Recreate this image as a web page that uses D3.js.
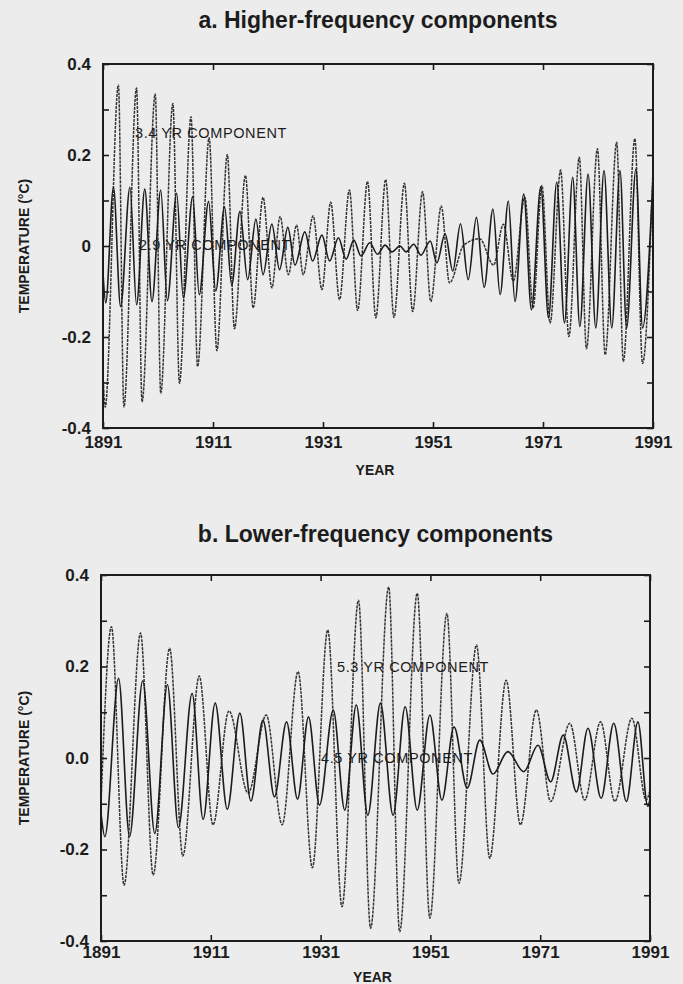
<!DOCTYPE html>
<html>
<head>
<meta charset="utf-8">
<script src="https://cdn.jsdelivr.net/npm/d3@7"></script>
<style>
body { margin: 0; background: #ececec; }
text { font-family: "Liberation Sans", Arial, sans-serif; fill: #1c1c1c; }
.solid { fill: none; stroke: #1c1c1c; stroke-width: 1.6px; }
.dotted { fill: none; stroke: #333; stroke-width: 1.5px; stroke-dasharray: 3 1; }
</style>
</head>
<body>
<div id="chart"></div>
<script>
var yearTicks = [1891, 1911, 1931, 1951, 1971, 1991];
var tempMajor = [-0.4, -0.2, 0, 0.2, 0.4];
var tempMinor = [-0.4, -0.3, -0.2, -0.1, 0, 0.1, 0.2, 0.3, 0.4];
var tempLabelsA = ["-0.4", "-0.2", "0", "0.2", "0.4"];
var tempLabelsB = ["-0.4", "-0.2", "0.0", "0.2", "0.4"];

// peaks and troughs
var years34 = [1891.0, 1891.4, 1893.8, 1894.8, 1897.1, 1898.1, 1900.5, 1901.5, 1903.7, 1904.9,
  1907.0, 1908.2, 1910.3, 1911.7, 1913.6, 1914.9, 1916.9, 1918.3, 1920.1, 1921.7,
  1923.2, 1924.7, 1926.2, 1927.4, 1929.2, 1930.8, 1932.4, 1934.0, 1935.8, 1937.3,
  1939.1, 1940.6, 1942.4, 1943.9, 1945.8, 1947.3, 1949.1, 1950.6, 1952.5, 1954.0,
  1956.6, 1959.5, 1962.0, 1963.8, 1965.6, 1967.7, 1969.2, 1970.8, 1972.3, 1974.2,
  1975.7, 1977.6, 1978.9, 1980.9, 1982.3, 1984.4, 1985.6, 1987.7, 1989.1, 1991.0];
var temp34 = [-0.28, -0.354, 0.354, -0.354, 0.347, -0.343, 0.334, -0.324, 0.313, -0.302,
  0.284, -0.265, 0.238, -0.230, 0.201, -0.182, 0.155, -0.136, 0.107, -0.092,
  0.065, -0.063, 0.046, -0.063, 0.066, -0.096, 0.096, -0.118, 0.123, -0.142,
  0.142, -0.158, 0.146, -0.157, 0.138, -0.144, 0.119, -0.122, 0.088, -0.081,
  0.002, 0.016, -0.042, 0.048, -0.077, 0.107, -0.136, 0.133, -0.169, 0.167,
  -0.199, 0.195, -0.226, 0.214, -0.239, 0.228, -0.254, 0.236, -0.258, 0.17];

var years29 = [1891.0, 1891.5, 1892.9, 1894.2, 1895.9, 1897.1, 1898.6, 1899.9, 1901.5, 1902.7,
  1904.4, 1905.6, 1907.3, 1908.5, 1910.2, 1911.5, 1913.1, 1914.4, 1915.9, 1917.3,
  1918.8, 1920.1, 1921.7, 1923.1, 1924.6, 1925.9, 1927.7, 1929.1, 1930.8, 1932.2,
  1933.8, 1935.2, 1936.6, 1937.9, 1939.5, 1940.9, 1942.3, 1943.5, 1945.0, 1946.1,
  1947.5, 1948.8, 1950.5, 1951.7, 1953.2, 1954.6, 1956.0, 1957.4, 1958.9, 1960.3,
  1961.9, 1963.2, 1964.7, 1965.9, 1967.5, 1968.9, 1970.6, 1972.0, 1973.5, 1974.9,
  1976.4, 1977.7, 1979.2, 1980.6, 1982.1, 1983.5, 1985.0, 1986.2, 1987.9, 1989.1, 1991.0];
var temp29 = [-0.06, -0.125, 0.129, -0.133, 0.129, -0.129, 0.125, -0.122, 0.123, -0.120,
  0.116, -0.114, 0.108, -0.107, 0.098, -0.099, 0.086, -0.086, 0.076, -0.074,
  0.059, -0.063, 0.048, -0.052, 0.041, -0.042, 0.031, -0.033, 0.024, -0.033,
  0.018, -0.029, 0.013, -0.022, 0.007, -0.018, 0.002, -0.013, 0.0, -0.013,
  0.004, -0.020, 0.011, -0.037, 0.027, -0.055, 0.049, -0.074, 0.063, -0.091,
  0.081, -0.107, 0.099, -0.122, 0.114, -0.140, 0.130, -0.158, 0.140, -0.169,
  0.151, -0.177, 0.158, -0.180, 0.166, -0.180, 0.166, -0.180, 0.169, -0.180, 0.15];

var years53 = [1891.0, 1892.9, 1895.2, 1898.2, 1900.5, 1903.5, 1905.9, 1908.9, 1911.4, 1914.3,
  1917.8, 1921.1, 1924.0, 1926.9, 1929.5, 1932.3, 1934.9, 1937.9, 1940.1, 1943.4,
  1945.4, 1948.6, 1950.9, 1954.0, 1956.2, 1959.4, 1961.8, 1964.8, 1967.4, 1970.3,
  1972.9, 1976.4, 1979.1, 1982.0, 1984.6, 1987.7, 1990.3, 1991.0];
var temp53 = [-0.10, 0.287, -0.278, 0.273, -0.256, 0.240, -0.214, 0.179, -0.146, 0.103,
  -0.077, 0.094, -0.146, 0.189, -0.240, 0.280, -0.325, 0.345, -0.372, 0.374,
  -0.380, 0.360, -0.350, 0.316, -0.274, 0.247, -0.219, 0.170, -0.146, 0.105,
  -0.095, 0.076, -0.092, 0.079, -0.095, 0.087, -0.092, -0.07];

var years45 = [1891.0, 1891.7, 1894.2, 1896.2, 1898.6, 1900.8, 1903.1, 1905.1, 1907.6, 1909.6,
  1911.8, 1914.0, 1916.3, 1918.3, 1920.5, 1922.6, 1924.8, 1926.8, 1928.8, 1930.8,
  1933.3, 1935.4, 1937.5, 1939.6, 1941.9, 1944.2, 1946.4, 1948.6, 1950.9, 1953.1,
  1955.3, 1957.7, 1960.0, 1962.4, 1965.1, 1968.0, 1970.6, 1972.9, 1975.2, 1977.6,
  1979.7, 1982.1, 1984.4, 1986.7, 1988.8, 1990.6, 1991.0];
var temp45 = [-0.12, -0.172, 0.174, -0.172, 0.169, -0.165, 0.160, -0.152, 0.141, -0.134,
  0.120, -0.112, 0.098, -0.094, 0.083, -0.085, 0.079, -0.090, 0.090, -0.103,
  0.105, -0.114, 0.116, -0.125, 0.120, -0.125, 0.112, -0.114, 0.094, -0.092,
  0.068, -0.066, 0.039, -0.035, 0.014, -0.030, 0.028, -0.052, 0.050, -0.074,
  0.065, -0.088, 0.076, -0.095, 0.079, -0.106, -0.09];

var width = 683, height = 984;
var svg = d3.select("#chart").append("svg")
            .attr("width", width)
            .attr("height", height);
svg.append("rect").attr("width", width).attr("height", height).attr("fill", "#ececec");

function drawPanel(p) {
  var x = d3.scaleLinear().domain([1891, 1991]).range([p.left, p.right]);
  var y = d3.scaleLinear().domain([-0.4, 0.4]).range([p.bottom, p.top]);
  var line = d3.line()
               .x(function(d) { return x(d[0]); })
               .y(function(d) { return y(d[1]); })
               .curve(d3.curveMonotoneX);
  var g = svg.append("g");

  g.append("path").datum(d3.zip(p.dotYears, p.dotTemps)).attr("class", "dotted").attr("d", line);
  g.append("path").datum(d3.zip(p.solidYears, p.solidTemps)).attr("class", "solid").attr("d", line);

  var fmt = function(d) {
    var i = tempMajor.findIndex(function(v) { return Math.abs(v - d) < 1e-9; });
    return i < 0 ? "" : p.tempLabels[i];
  };
  var axes = [
    g.append("g").attr("transform", "translate(" + p.left + ",0)")
     .call(d3.axisLeft(y).tickValues(tempMinor).tickSize(-6).tickPadding(12).tickFormat(fmt)),
    g.append("g").attr("transform", "translate(" + p.right + ",0)")
     .call(d3.axisRight(y).tickValues(tempMinor).tickSize(-6).tickFormat("")),
    g.append("g").attr("transform", "translate(0," + p.bottom + ")")
     .call(d3.axisBottom(x).tickValues(yearTicks).tickSize(-6).tickPadding(p.xPad).tickFormat(d3.format("d"))),
    g.append("g").attr("transform", "translate(0," + p.top + ")")
     .call(d3.axisTop(x).tickValues(yearTicks).tickSize(-6).tickFormat(""))
  ];
  axes.forEach(function(a) {
    a.select(".domain").remove();
    a.selectAll(".tick line").attr("stroke", "#1c1c1c").attr("stroke-width", 1.6);
    a.selectAll(".tick text").attr("font-family", "Liberation Sans, Arial, sans-serif")
     .attr("font-size", 17).attr("font-weight", "bold").attr("fill", "#1c1c1c");
  });

  g.append("rect")
   .attr("x", p.left).attr("y", p.top)
   .attr("width", p.right - p.left).attr("height", p.bottom - p.top)
   .attr("fill", "none").attr("stroke", "#1c1c1c").attr("stroke-width", 2);

  g.append("text").attr("x", (p.left + p.right) / 2).attr("y", p.titleY)
   .attr("text-anchor", "middle").attr("font-size", 23).attr("font-weight", "bold")
   .text(p.title);
  g.append("text").attr("x", (p.left + p.right) / 2 - 3).attr("y", p.yearY)
   .attr("text-anchor", "middle").attr("font-size", 14).attr("font-weight", "bold")
   .text("YEAR");
  g.append("text")
   .attr("transform", "translate(29," + y(0) + ") rotate(-90)")
   .attr("text-anchor", "middle").attr("font-size", 14).attr("font-weight", "bold")
   .text("TEMPERATURE (\u00B0C)");

  p.notes.forEach(function(n) {
    g.append("text").attr("x", n[0]).attr("y", n[1])
     .attr("font-size", 14.5).attr("letter-spacing", 0.6)
     .text(n[2]);
  });
}

drawPanel({
  left: 103, right: 653, top: 64, bottom: 428,
  title: "a. Higher-frequency components", titleY: 28, yearY: 475, xPad: 8,
  tempLabels: tempLabelsA,
  dotYears: years34, dotTemps: temp34,
  solidYears: years29, solidTemps: temp29,
  notes: [[135, 138, "3.4 YR COMPONENT"], [139, 250, "2.9 YR COMPONENT"]]
});

drawPanel({
  left: 101, right: 650, top: 575, bottom: 941,
  title: "b. Lower-frequency components", titleY: 542, yearY: 982, xPad: 5,
  tempLabels: tempLabelsB,
  dotYears: years53, dotTemps: temp53,
  solidYears: years45, solidTemps: temp45,
  notes: [[337, 672, "5.3 YR COMPONENT"], [321, 763, "4.5 YR COMPONENT"]]
});
</script>
</body>
</html>
